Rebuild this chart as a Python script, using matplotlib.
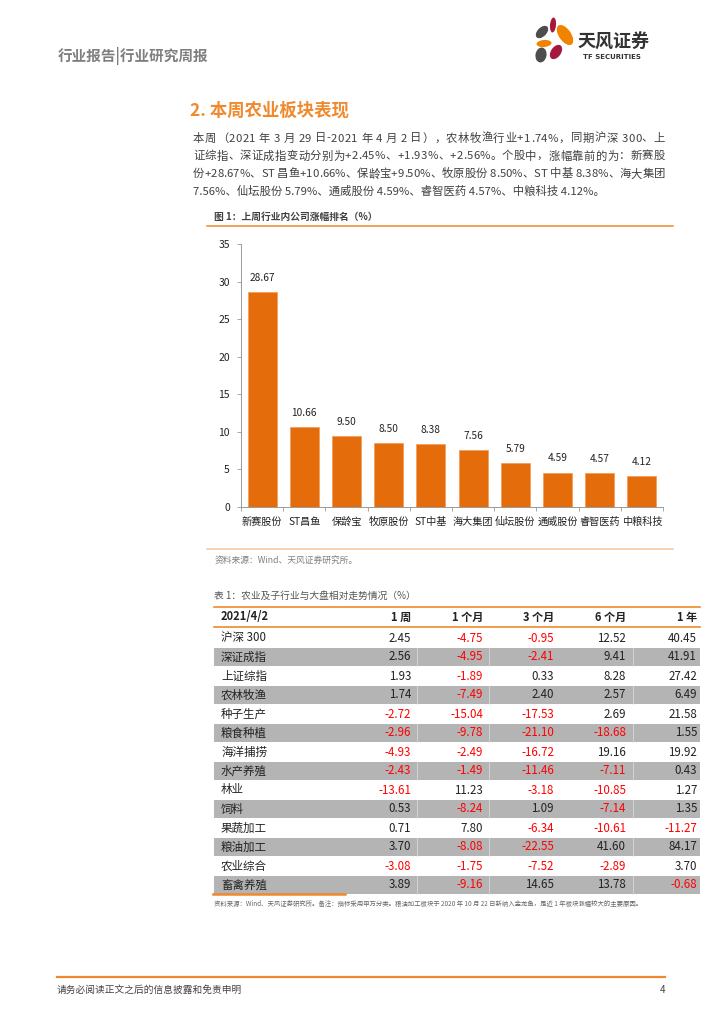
import matplotlib
matplotlib.use('Agg')
import matplotlib.pyplot as plt
from matplotlib.patches import Ellipse, Rectangle

plt.rcParams['font.family'] = ['Noto Sans CJK SC', 'DejaVu Sans']

# ---- chart data ----
stocks = ['新赛股份', 'ST昌鱼', '保龄宝', '牧原股份', 'ST中基', '海大集团', '仙坛股份', '通威股份', '睿智医药', '中粮科技']
gains = [28.67, 10.66, 9.50, 8.50, 8.38, 7.56, 5.79, 4.59, 4.57, 4.12]
y_ticks = [0, 5, 10, 15, 20, 25, 30, 35]

# ---- table data ----
table_cols = ['1 周', '1 个月', '3 个月', '6 个月', '1 年']
table_date = '2021/4/2'
sectors = ['沪深 300', '深证成指', '上证综指', '农林牧渔', '种子生产', '粮食种植', '海洋捕捞',
           '水产养殖', '林业', '饲料', '果蔬加工', '粮油加工', '农业综合', '畜禽养殖']
week1 = [2.45, 2.56, 1.93, 1.74, -2.72, -2.96, -4.93, -2.43, -13.61, 0.53, 0.71, 3.70, -3.08, 3.89]
month1 = [-4.75, -4.95, -1.89, -7.49, -15.04, -9.78, -2.49, -1.49, 11.23, -8.24, 7.80, -8.08, -1.75, -9.16]
month3 = [-0.95, -2.41, 0.33, 2.40, -17.53, -21.10, -16.72, -11.46, -3.18, 1.09, -6.34, -22.55, -7.52, 14.65]
month6 = [12.52, 9.41, 8.28, 2.57, 2.69, -18.68, 19.16, -7.11, -10.85, -7.14, -10.61, 41.60, -2.89, 13.78]
year1 = [40.45, 41.91, 27.42, 6.49, 21.58, 1.55, 19.92, 0.43, 1.27, 1.35, -11.27, 84.17, 3.70, -0.68]

paragraph = [
    '本周（2021 年 3 月 29 日-2021 年 4 月 2 日），农林牧渔行业+1.74%，同期沪深 300、上',
    '证综指、深证成指变动分别为+2.45%、+1.93%、+2.56%。个股中，涨幅靠前的为：新赛股',
    '份+28.67%、ST 昌鱼+10.66%、保龄宝+9.50%、牧原股份 8.50%、ST 中基 8.38%、海大集团',
    '7.56%、仙坛股份 5.79%、通威股份 4.59%、睿智医药 4.57%、中粮科技 4.12%。',
]

ORANGE = '#F0892D'
BAR = '#E46C0A'
TXT = '#404040'

fig = plt.figure(figsize=(7.24, 10.24), dpi=100)
bg = fig.add_axes([0, 0, 1, 1])
bg.set_xlim(0, 724)
bg.set_ylim(1024, 0)
bg.axis('off')
renderer = fig.canvas.get_renderer()


def text_width(s, fs):
    t = bg.text(0, 0, s, fontsize=fs)
    w = t.get_window_extent(renderer).width
    t.remove()
    return w


# header
bg.text(58, 56, '行业报告|行业研究周报', fontsize=10.5, color='#7F7F7F', va='center', fontweight='bold')

# logo petals
petals = [
    (553, 25, 6, 15, 5, '#A6193C'),
    (542, 32, 9, 15, 45, '#4D4D4D'),
    (565, 35, 12, 23, -35, '#F08300'),
    (544, 43.5, 15, 7, -5, '#F08300'),
    (541, 55, 11, 15, 10, '#4D4D4D'),
    (556, 52, 10, 16, 35, '#A6193C'),
]
for cx, cy, w, h, ang, col in petals:
    bg.add_patch(Ellipse((cx, cy), w, h, angle=ang, color=col, lw=0))
bg.text(578, 42, '天风证券', fontsize=13, color='#333333', va='center', fontweight='bold')
bg.text(583, 57, 'TF SECURITIES', fontsize=5, color='#333333', va='center', fontweight='bold',
        family='DejaVu Sans')

# section title
bg.text(190, 111, '2. 本周农业板块表现', fontsize=12.5, color=ORANGE, va='center', fontweight='bold')

# paragraph, justified between x=193 and x=665
px0, px1 = 193, 665
fs = 9.3
widest = max(text_width(line, fs) for line in paragraph[:3])
if widest > px1 - px0:
    fs = fs * (px1 - px0) / widest * 0.995
bar_w = text_width('|', fs)
for i, line in enumerate(paragraph):
    yc = 138.5 + 17.7 * i
    if i == len(paragraph) - 1:
        bg.text(px0, yc, line, fontsize=fs, color=TXT, va='center')
        continue
    n = len(line)
    pos = [0.0] + [text_width(line[:k] + '|', fs) - bar_w for k in range(1, n)]
    extra = (px1 - px0) - text_width(line, fs)
    for k, ch in enumerate(line):
        if ch == ' ':
            continue
        bg.text(px0 + pos[k] + extra * k / (n - 1), yc, ch, fontsize=fs, color=TXT, va='center')

# figure caption
bg.text(214, 217, '图 1：上周行业内公司涨幅排名（%）', fontsize=7, color='#404040', va='center', fontweight='bold')
bg.plot([207, 673], [226, 226], color=ORANGE, lw=1.1)
bg.plot([207, 673], [549, 549], color='#F8C49A', lw=1.1)
bg.text(215, 560, '资料来源：Wind、天风证券研究所。', fontsize=6.3, color='#7F7F7F', va='center',
        style='italic')

# table
bg.text(214, 596, '表 1：农业及子行业与大盘相对走势情况（%）', fontsize=7, color='#555555', va='center')
tx0, tx1 = 214, 700
col_right = [411, 483, 554, 626, 697]
bg.plot([tx0, tx1], [607, 607], color=ORANGE, lw=1.2)
bg.text(221, 617, table_date, fontsize=8, fontweight='bold', color='#222222', va='center')
for c, lab in enumerate(table_cols):
    bg.text(col_right[c], 617, lab, fontsize=8, fontweight='bold', color='#222222', va='center', ha='right')
bg.plot([tx0, tx1], [626.5, 626.5], color=ORANGE, lw=1.2)

row_h = 19
for r, name in enumerate(sectors):
    yc = 638 + row_h * r
    if r % 2 == 1:
        bg.add_patch(Rectangle((tx0, yc - row_h / 2 + 0.5), tx1 - tx0, row_h - 1, color='#B4B4B4', lw=0))
        for sx in [417, 489, 633]:
            bg.plot([sx, sx], [yc - row_h / 2 + 0.5, yc + row_h / 2 - 0.5], color='#D9D9D9', lw=0.6)
    bg.text(221, yc, name, fontsize=8.3, color='#222222', va='center')
    vals = [week1[r], month1[r], month3[r], month6[r], year1[r]]
    for c, v in enumerate(vals):
        bg.text(col_right[c], yc, f'{v:.2f}', fontsize=8.3, va='center', ha='right',
                color='#FF0000' if v < 0 else '#222222')

bg.plot([213, 345], [893.5, 893.5], color=ORANGE, lw=1.8)
bg.text(214, 904, '资料来源：Wind、天风证券研究所。备注：指标采用申万分类。粮油加工板块于 2020 年 10 月 22 日新纳入金龙鱼，是近 1 年板块涨幅较大的主要原因。',
        fontsize=4.6, color='#666666', va='center')

# footer
bg.plot([57, 665], [976.5, 976.5], color=ORANGE, lw=1.6)
bg.text(57, 990, '请务必阅读正文之后的信息披露和免责申明', fontsize=7, color='#444444', va='center')
bg.text(665, 990, '4', fontsize=7, color='#444444', va='center', ha='right')

# bar chart
ax = fig.add_axes([241 / 724, 1 - 507 / 1024, (663 - 241) / 724, (507 - 244) / 1024])
ax.patch.set_alpha(0)
x = list(range(len(stocks)))
ax.bar(x, gains, width=0.69, color=BAR, edgecolor='#F29A55', linewidth=0.5)
for xi, v in zip(x, gains):
    ax.text(xi, v + 1.2, f'{v:.2f}', ha='center', va='bottom', fontsize=7.3, color='#222222')
ax.set_xlim(-0.5, len(stocks) - 0.5)
ax.set_ylim(0, 35)
ax.set_yticks(y_ticks)
ax.set_xticks(x)
ax.set_xticklabels(stocks, fontsize=7.3, color='#222222')
ax.set_xticks([i - 0.5 for i in range(len(stocks) + 1)], minor=True)
ax.tick_params(axis='x', which='major', length=0, pad=7)
ax.tick_params(axis='x', which='minor', length=3, color='#999999', width=0.6)
ax.tick_params(axis='y', length=3, color='#999999', width=0.6, labelsize=7.5, labelcolor='#222222', pad=5)
for s in ['top', 'right']:
    ax.spines[s].set_visible(False)
for s in ['left', 'bottom']:
    ax.spines[s].set_color('#999999')
    ax.spines[s].set_linewidth(0.7)

fig.savefig('out.png', dpi=100)
